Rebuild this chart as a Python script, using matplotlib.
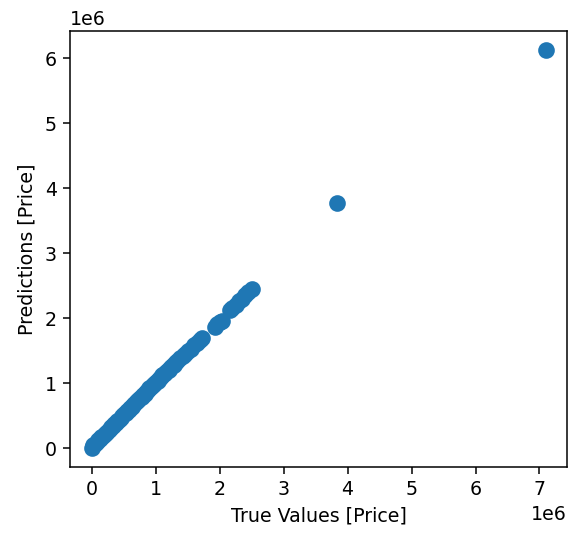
import matplotlib
matplotlib.use("Agg")
import matplotlib.pyplot as plt

# true vs predicted prices (in units of 1e6, scaled below)
true_vals = [0.00, 0.02, 0.05, 0.08, 0.10, 0.13, 0.15, 0.18, 0.20, 0.23, 0.25, 0.28,
             0.30, 0.33, 0.35, 0.38, 0.40, 0.43, 0.45, 0.48, 0.50, 0.53, 0.55, 0.58,
             0.60, 0.63, 0.65, 0.68, 0.70, 0.73, 0.75, 0.78, 0.80, 0.83, 0.85, 0.88,
             0.90, 0.93, 0.95, 0.98, 1.00, 1.03, 1.05, 1.08, 1.10, 1.13, 1.15, 1.18,
             1.20, 1.23, 1.25, 1.28, 1.30, 1.34, 1.38, 1.42, 1.46, 1.50, 1.55, 1.60,
             1.65, 1.70, 1.73, 1.92, 1.96, 2.00, 2.03, 2.16, 2.20, 2.25, 2.30, 2.35,
             2.40, 2.45, 2.50, 3.84, 7.10]
pred_vals = [0.00, 0.05, 0.06, 0.09, 0.12, 0.14, 0.17, 0.19, 0.22, 0.24, 0.27, 0.29,
             0.32, 0.34, 0.37, 0.39, 0.42, 0.44, 0.47, 0.49, 0.52, 0.54, 0.57, 0.59,
             0.62, 0.64, 0.67, 0.69, 0.72, 0.74, 0.77, 0.79, 0.82, 0.84, 0.87, 0.89,
             0.92, 0.94, 0.97, 0.99, 1.02, 1.04, 1.07, 1.09, 1.12, 1.14, 1.16, 1.19,
             1.21, 1.23, 1.26, 1.28, 1.31, 1.34, 1.38, 1.42, 1.45, 1.49, 1.53, 1.58,
             1.62, 1.66, 1.69, 1.87, 1.91, 1.94, 1.96, 2.12, 2.16, 2.21, 2.26, 2.30,
             2.35, 2.40, 2.45, 3.77, 6.12]

test_labels = [v * 1e6 for v in true_vals]
test_predictions = [v * 1e6 for v in pred_vals]

dpi = 137
fig = plt.figure(figsize=(568 / dpi, 533 / dpi), dpi=dpi)
ax = fig.add_axes([70 / 568, (533 - 467) / 533, 497 / 568, 436 / 533])

ax.scatter(test_labels, test_predictions, s=60, color='#1f77b4')
ax.set_xlabel('True Values [Price]')
ax.set_ylabel('Predictions [Price]')
ax.set_xlim(-0.34e6, 7.43e6)
ax.set_ylim(-0.29e6, 6.42e6)
ax.set_xticks([i * 1e6 for i in range(8)])
ax.set_yticks([i * 1e6 for i in range(7)])

fig.savefig('out.png', dpi=dpi)
